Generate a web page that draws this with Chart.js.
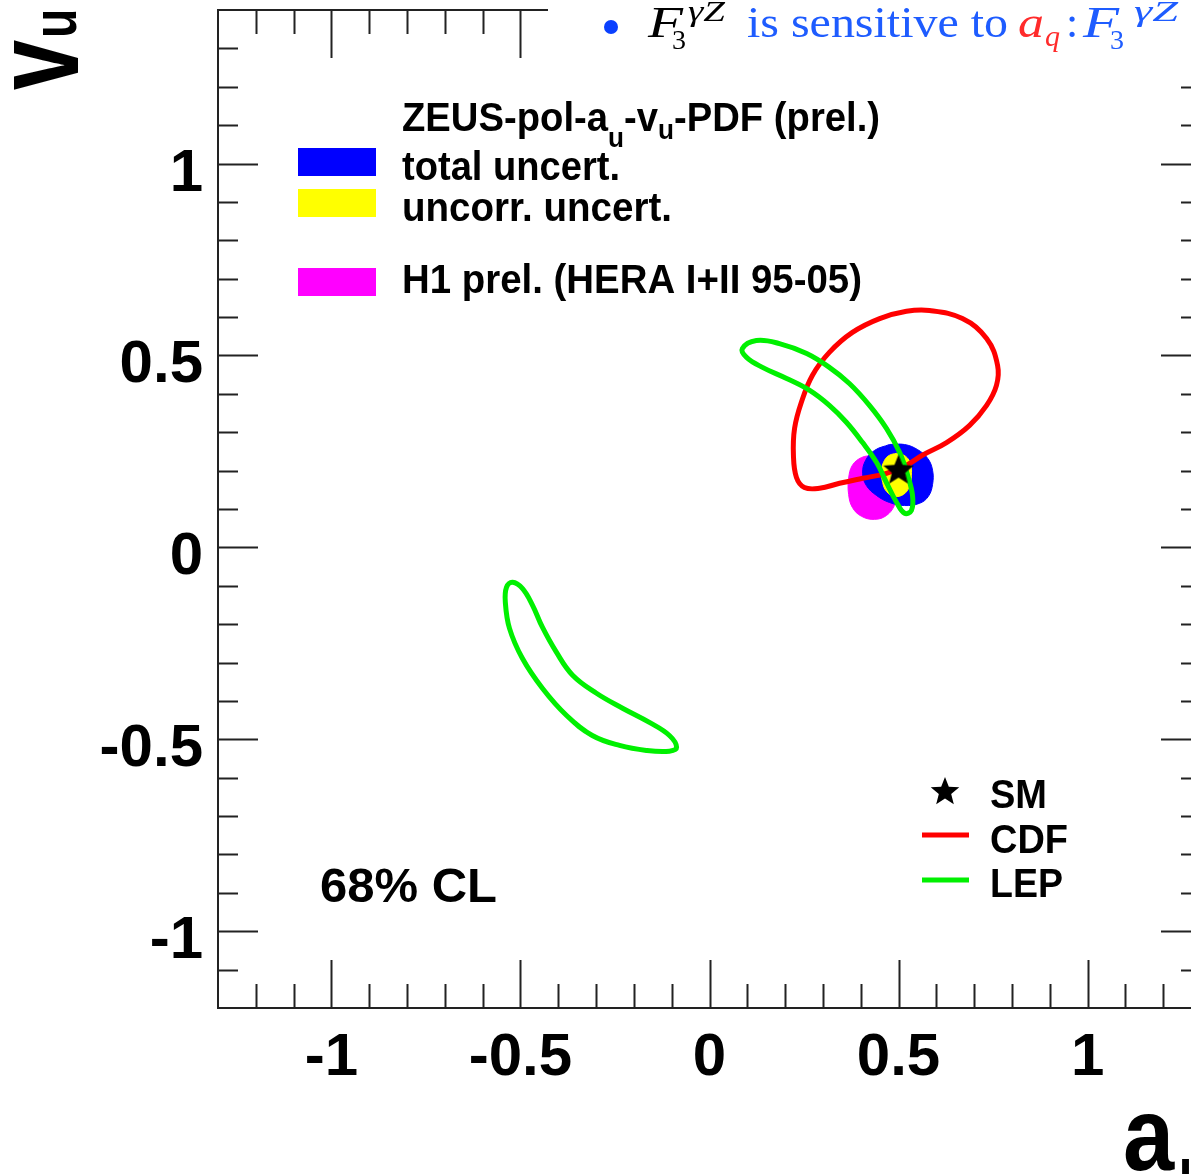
<!DOCTYPE html>
<html><head><meta charset="utf-8">
<script src="https://cdn.jsdelivr.net/npm/chart.js@4.4.1/dist/chart.umd.min.js"></script>
<style>
html,body{margin:0;padding:0;background:#fff;overflow:hidden;width:1191px;height:1174px}
#wrap{position:absolute;left:0;top:0;width:1210px;height:1174px}
canvas{display:block}
</style></head>
<body><div id="wrap"><canvas id="c" width="1210" height="1174"></canvas></div>
<script>
// ---------------- data ----------------
const xRange = [-1.3, 1.3];
const yRange = [-1.2, 1.4];
const xMajorTicks = [-1, -0.5, 0, 0.5, 1];
const xTickLabels = ['-1', '-0.5', '0', '0.5', '1'];
const yMajorTicks = [-1, -0.5, 0, 0.5, 1];
const yTickLabels = ['-1', '-0.5', '0', '0.5', '1'];

const smA = [0.5];
const smV = [0.2];

const cdfA = [0.405,0.344,0.291,0.251,0.230,0.222,0.225,0.243,0.272,0.317,0.378,0.450,0.521,0.582,0.669,0.733,0.762,0.759,0.733,0.688,0.627,0.563,0.521,0.468,0.405];
const cdfV = [0.180,0.167,0.154,0.156,0.182,0.240,0.310,0.378,0.448,0.508,0.560,0.596,0.615,0.617,0.596,0.544,0.474,0.422,0.370,0.318,0.273,0.240,0.214,0.193,0.180];

const lepUpperA = [0.370,0.423,0.468,0.503,0.524,0.537,0.534,0.516,0.495,0.468,0.442,0.405,0.362,0.317,0.265,0.204,0.140,0.098,0.087,0.124,0.185,0.257,0.317,0.370];
const lepUpperV = [0.427,0.370,0.310,0.247,0.188,0.135,0.096,0.089,0.117,0.169,0.221,0.273,0.326,0.370,0.409,0.440,0.469,0.495,0.518,0.539,0.531,0.505,0.469,0.427];

const lepLowerA = [-0.362,-0.299,-0.230,-0.159,-0.106,-0.087,-0.106,-0.167,-0.238,-0.310,-0.378,-0.442,-0.495,-0.529,-0.540,-0.537,-0.521,-0.495,-0.468,-0.442,-0.405,-0.362];
const lepLowerV = [-0.333,-0.380,-0.419,-0.456,-0.490,-0.521,-0.531,-0.529,-0.516,-0.490,-0.438,-0.367,-0.289,-0.211,-0.143,-0.104,-0.091,-0.107,-0.151,-0.208,-0.273,-0.333];

const totalA = [0.476,0.516,0.550,0.577,0.590,0.590,0.579,0.556,0.516,0.476,0.442,0.415,0.405,0.413,0.437,0.476];
const totalV = [0.268,0.268,0.255,0.232,0.201,0.164,0.133,0.115,0.109,0.117,0.135,0.161,0.193,0.227,0.253,0.268];

const uncorrA = [0.495,0.519,0.532,0.534,0.529,0.513,0.489,0.468,0.458,0.455,0.463,0.476,0.495];
const uncorrV = [0.245,0.237,0.216,0.188,0.159,0.138,0.133,0.146,0.169,0.201,0.227,0.240,0.245];

const h1A = [0.431,0.463,0.487,0.497,0.497,0.489,0.468,0.437,0.402,0.378,0.368,0.368,0.378,0.402,0.431];
const h1V = [0.240,0.232,0.211,0.180,0.143,0.109,0.083,0.073,0.081,0.104,0.138,0.180,0.214,0.234,0.240];

// ---------------- helpers ----------------
function pts(a, v) { return a.map((x, i) => ({ x: x, y: v[i] })); }
// closed loop (first point == last point): wrap one neighbour on each end so the spline
// closes smoothly; the two wrap segments are hidden through segment styling
function loopPts(a, v) {
  const p = pts(a, v);
  const n = p.length;
  return [p[n - 2]].concat(p, [p[1]]);
}

function makeStar(R, r) {
  const c = document.createElement('canvas');
  c.width = c.height = Math.ceil(2 * R + 2);
  const g = c.getContext('2d');
  g.translate(c.width / 2, c.height / 2);
  g.beginPath();
  for (let i = 0; i < 10; i++) {
    const rad = i % 2 ? r : R;
    const ang = -Math.PI / 2 + i * Math.PI / 5;
    g.lineTo(rad * Math.cos(ang), rad * Math.sin(ang));
  }
  g.closePath();
  g.fillStyle = '#000';
  g.fill();
  return c;
}
const starImg = makeStar(16, 7);
const starLegend = makeStar(15, 6.5);

const SANS = '"Liberation Sans", Arial, Helvetica, sans-serif';
const SERIF = '"Liberation Serif", "Times New Roman", serif';

function txt(ctx, s, x, y, size, o) {
  o = o || {};
  ctx.save();
  ctx.font = (o.style || 'normal') + ' ' + (o.weight || 'bold') + ' ' + size + 'px ' + (o.family || SANS);
  ctx.fillStyle = o.color || '#000';
  ctx.textAlign = o.align || 'left';
  ctx.textBaseline = 'alphabetic';
  let sx = o.sx || 1;
  const w0 = ctx.measureText(s).width;
  if (o.width) sx = o.width / w0;
  ctx.translate(x, y);
  if (o.rot) ctx.rotate(o.rot);
  ctx.scale(sx, o.sy || 1);
  ctx.fillText(s, 0, 0);
  ctx.restore();
  return w0 * sx;
}

function runs(ctx, segs, x, y, width, sy) {
  ctx.save();
  let total = 0;
  const ws = segs.map(sg => {
    ctx.font = 'bold ' + sg.size + 'px ' + SANS;
    const w = ctx.measureText(sg.t).width;
    total += w;
    return w;
  });
  ctx.restore();
  const sx = width / total;
  let cx = x;
  segs.forEach((sg, i) => {
    txt(ctx, sg.t, cx, y + (sg.dy || 0), sg.size, { sx: sx, sy: sy });
    cx += ws[i] * sx;
  });
}

// ---------------- decoration plugin ----------------
const deco = {
  id: 'deco',
  afterDraw(chart) {
    const ctx = chart.ctx;
    const xs = chart.scales.x, ys = chart.scales.y;
    const A = chart.chartArea;
    ctx.save();
    ctx.strokeStyle = '#222';
    ctx.lineWidth = 2;
    ctx.beginPath();
    ctx.rect(A.left, A.top, A.right - A.left, A.bottom - A.top);
    ctx.stroke();
    ctx.beginPath();
    for (let i = -12; i <= 12; i++) {
      const v = i / 10;
      const px = Math.round(xs.getPixelForValue(v)) + 0.5;
      const len = (i % 5 === 0) ? 48 : 24;
      ctx.moveTo(px, A.bottom); ctx.lineTo(px, A.bottom - len);
      ctx.moveTo(px, A.top); ctx.lineTo(px, A.top + len);
    }
    for (let i = -11; i <= 13; i++) {
      const v = i / 10;
      const py = Math.round(ys.getPixelForValue(v)) + 0.5;
      const len = (i % 5 === 0) ? 40 : 20;
      ctx.moveTo(A.left, py); ctx.lineTo(A.left + len, py);
      ctx.moveTo(A.right, py); ctx.lineTo(A.right - len, py);
    }
    ctx.stroke();
    ctx.restore();

    xMajorTicks.forEach((v, i) => {
      txt(ctx, xTickLabels[i], xs.getPixelForValue(v), 1075, 60, { align: 'center' });
    });
    yMajorTicks.forEach((v, i) => {
      txt(ctx, yTickLabels[i], 203, ys.getPixelForValue(v) + 27, 60, { align: 'right' });
    });

    txt(ctx, 'v', 78, 90, 90, { rot: -Math.PI / 2, sy: 1.35 });
    txt(ctx, 'u', 76, 38, 48, { rot: -Math.PI / 2, sy: 1.3 });
    txt(ctx, 'a', 1123, 1170, 92, { sy: 1.12 });
    txt(ctx, 'u', 1179, 1190, 50, { sy: 1.2 });

    runs(ctx, [
      { t: 'ZEUS-pol-a', size: 38 },
      { t: 'u', size: 26, dy: 16 },
      { t: '-v', size: 38 },
      { t: 'u', size: 26, dy: 8 },
      { t: '-PDF (prel.)', size: 38 }
    ], 402, 131, 478, 1.08);
    txt(ctx, 'total uncert.', 402, 180, 38, { width: 218, sy: 1.08 });
    txt(ctx, 'uncorr. uncert.', 402, 221, 38, { width: 270, sy: 1.08 });
    txt(ctx, 'H1 prel. (HERA I+II 95-05)', 402, 293, 38, { width: 460, sy: 1.08 });
    ctx.fillStyle = '#0000ff'; ctx.fillRect(298, 148, 78, 28);
    ctx.fillStyle = '#ffff00'; ctx.fillRect(298, 189, 78, 28);
    ctx.fillStyle = '#ff00ff'; ctx.fillRect(298, 268, 78, 28);

    ctx.drawImage(starLegend, 945 - starLegend.width / 2, 792 - starLegend.height / 2);
    txt(ctx, 'SM', 990, 808, 38, { width: 57, sy: 1.08 });
    ctx.save();
    ctx.lineWidth = 5;
    ctx.strokeStyle = '#ff0000';
    ctx.beginPath(); ctx.moveTo(922, 835); ctx.lineTo(969, 835); ctx.stroke();
    ctx.strokeStyle = '#00f000';
    ctx.beginPath(); ctx.moveTo(922, 880); ctx.lineTo(969, 880); ctx.stroke();
    ctx.restore();
    txt(ctx, 'CDF', 990, 853, 38, { width: 78, sy: 1.08 });
    txt(ctx, 'LEP', 990, 897, 38, { width: 73, sy: 1.08 });

    txt(ctx, '68% CL', 320, 902, 49, { width: 177 });

    // pasted overlay (top right)
    ctx.fillStyle = '#ffffff';
    ctx.fillRect(548, 0, 700, 64);
    const BL = '#1e5cff', RD = '#ff2b2b';
    ctx.fillStyle = '#0a40ff';
    ctx.beginPath(); ctx.arc(611, 27, 7, 0, 2 * Math.PI); ctx.fill();
    const it = { style: 'italic', weight: 'normal', family: SERIF };
    txt(ctx, 'F', 648, 37, 44, Object.assign({ color: '#000', width: 35 }, it));
    txt(ctx, '3', 672, 49, 28, { weight: 'normal', family: SERIF, color: '#000' });
    txt(ctx, 'γZ', 688, 21, 30, Object.assign({ color: '#000', width: 37 }, it));
    txt(ctx, 'is sensitive to', 747, 37, 44, { weight: 'normal', family: SERIF, color: BL, width: 261 });
    txt(ctx, 'a', 1018, 37, 44, Object.assign({ color: RD, width: 26 }, it));
    txt(ctx, 'q', 1045, 46, 30, Object.assign({ color: RD }, it));
    txt(ctx, ':', 1066, 37, 44, { weight: 'normal', family: SERIF, color: BL });
    txt(ctx, 'F', 1083, 37, 44, Object.assign({ color: BL, width: 36 }, it));
    txt(ctx, '3', 1110, 49, 28, { weight: 'normal', family: SERIF, color: BL });
    txt(ctx, 'γZ', 1134, 21, 30, Object.assign({ color: BL, width: 44 }, it));
  }
};

// ---------------- chart ----------------
const lineDs = (label, a, v, color, width) => {
  const data = loopPts(a, v);
  const last = data.length - 1;
  return {
    label: label, data: data, showLine: true, borderColor: color, borderWidth: width,
    pointRadius: 0, tension: 0.4, fill: false,
    segment: {
      borderColor: c => (c.p0DataIndex === 0 || c.p1DataIndex === last) ? 'rgba(0,0,0,0)' : color
    }
  };
};
const blobDs = (label, a, v, color) => ({
  label: label, data: pts(a, v), showLine: true, borderColor: color, borderWidth: 1,
  backgroundColor: color, pointRadius: 0, tension: 0.4, fill: 'shape'
});

new Chart(document.getElementById('c'), {
  type: 'scatter',
  data: {
    datasets: [
      { label: 'SM', data: pts(smA, smV), pointStyle: starImg, pointRadius: 16, showLine: false },
      lineDs('LEP', lepUpperA, lepUpperV, '#00f000', 5),
      lineDs('LEP2', lepLowerA, lepLowerV, '#00f000', 5),
      lineDs('CDF', cdfA, cdfV, '#ff0000', 5),
      blobDs('uncorr. uncert.', uncorrA, uncorrV, '#ffff00'),
      blobDs('total uncert.', totalA, totalV, '#0000ff'),
      blobDs('H1 prel.', h1A, h1V, '#ff00ff')
    ]
  },
  options: {
    responsive: false,
    animation: false,
    devicePixelRatio: 1,
    events: [],
    layout: { autoPadding: false, padding: { left: 218, top: 10, right: 9, bottom: 166 } },
    plugins: { legend: { display: false }, tooltip: { enabled: false } },
    scales: {
      x: { type: 'linear', min: xRange[0], max: xRange[1], display: false },
      y: { type: 'linear', min: yRange[0], max: yRange[1], display: false }
    }
  },
  plugins: [deco]
});
</script>
</body></html>
